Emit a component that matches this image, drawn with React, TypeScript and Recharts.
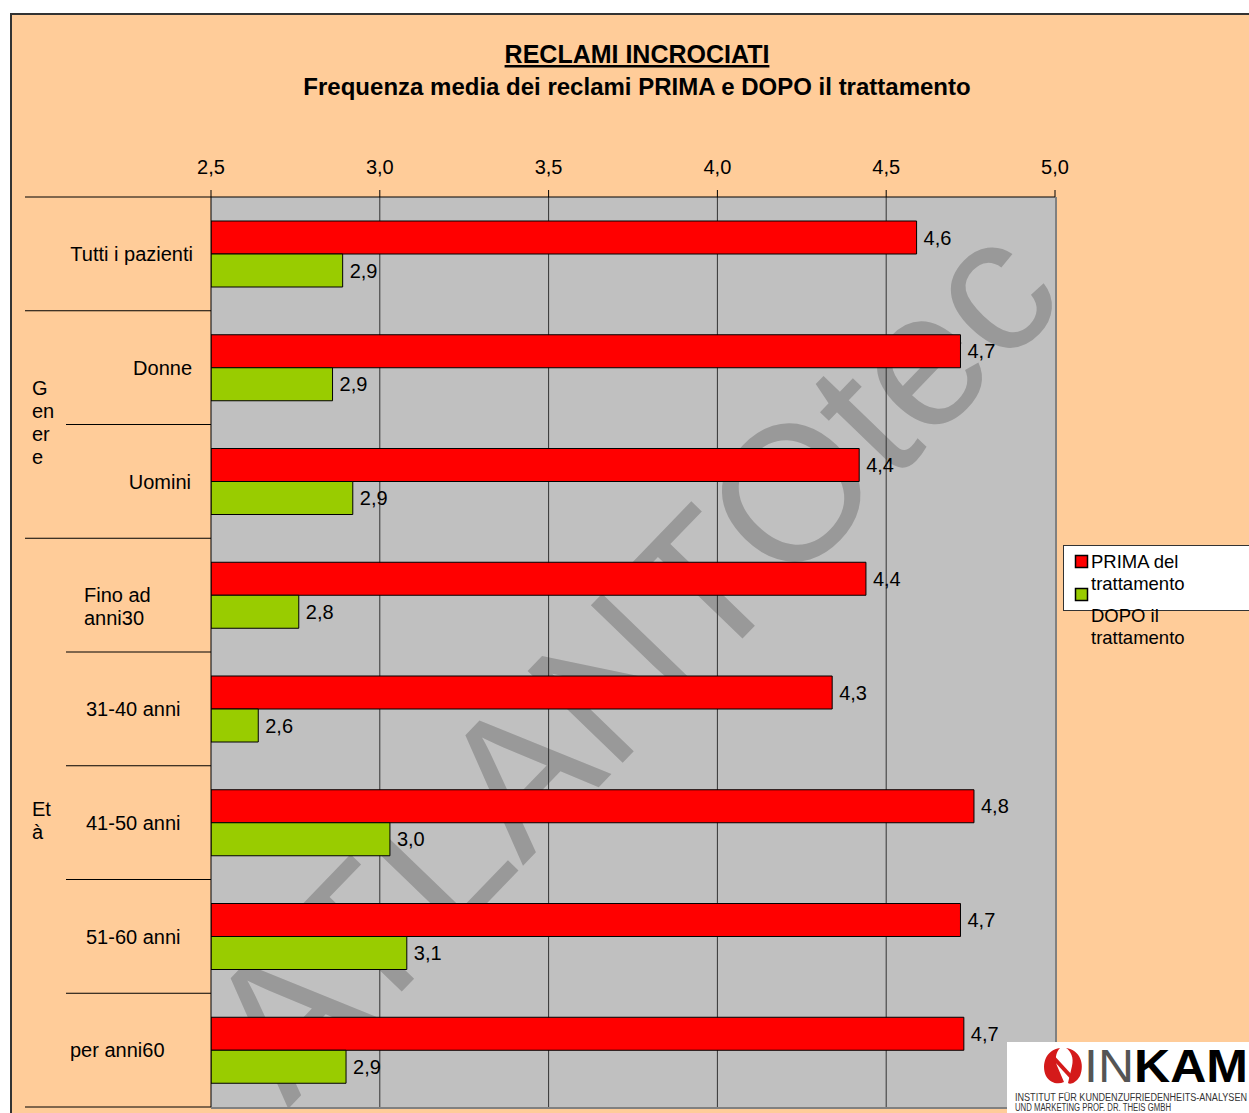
import * as React from 'react';
import {
  Bar,
  BarChart,
  CartesianGrid,
  LabelList,
  Text,
  XAxis,
  YAxis,
} from 'recharts';

const CATEGORIES = [
  'Tutti i pazienti',
  'Donne',
  'Uomini',
  'Fino ad anni30',
  '31-40 anni',
  '41-50 anni',
  '51-60 anni',
  'per anni60',
];
const PRIMA = [4.59, 4.72, 4.42, 4.44, 4.34, 4.76, 4.72, 4.73];
const DOPO = [2.89, 2.86, 2.92, 2.76, 2.64, 3.03, 3.08, 2.9];
const X_TICKS = [2.5, 3.0, 3.5, 4.0, 4.5, 5.0];
const GROUP_LINES = [
  ['G', 'en', 'er', 'e'],
  ['Et', 'à'],
];
const GROUP_START = [1, 3];
const GROUP_SIZE = [2, 5];
const SERIES_NAMES = ['PRIMA del trattamento', 'DOPO il trattamento'];
const TITLE = 'RECLAMI INCROCIATI';
const SUBTITLE = 'Frequenza media dei reclami PRIMA e DOPO il trattamento';

const data = CATEGORIES.map((name, i) => ({
  name,
  prima: PRIMA[i],
  dopo: DOPO[i],
}));

const W = 1249;
const H = 1113;
const MARGIN = { top: 137, left: 25, right: 194, bottom: 6 };
const Y_AXIS_W = 186;
const X_AXIS_H = 60;
const PLOT_LEFT = MARGIN.left + Y_AXIS_W;
const PLOT_TOP = MARGIN.top + X_AXIS_H;
const PLOT_W = W - MARGIN.right - PLOT_LEFT;
const PLOT_H = H - MARGIN.bottom - PLOT_TOP;
const BAND = PLOT_H / CATEGORIES.length;
const X_MIN = X_TICKS[0];
const X_MAX = X_TICKS[X_TICKS.length - 1];

const ORANGE = '#FFCC99';
const PLOT_BG = '#C0C0C0';
const RED = '#FF0000';
const GREEN = '#99CC00';
const FONT = 'Arial, "Liberation Sans", sans-serif';

// per-category label placement (the source mixes alignments)
const LABEL_LAYOUT: { anchor: 'start' | 'end'; x: number; width?: number }[] = [
  { anchor: 'end', x: 193 },
  { anchor: 'end', x: 192 },
  { anchor: 'end', x: 191 },
  { anchor: 'start', x: 84, width: 78 },
  { anchor: 'start', x: 86 },
  { anchor: 'start', x: 86 },
  { anchor: 'start', x: 86 },
  { anchor: 'start', x: 70 },
];

const fmt = (v: number) => v.toFixed(1).replace('.', ',');

const CategoryTick = (props: any) => {
  const { y, payload, index } = props;
  const top = y - BAND / 2;
  const groupStarts = [0, ...GROUP_START];
  const lineStart = groupStarts.includes(index) ? MARGIN.left : 66;
  const lay = LABEL_LAYOUT[index];
  const g = GROUP_START.indexOf(index);
  return (
    <g>
      <line x1={lineStart} x2={PLOT_LEFT} y1={top} y2={top} stroke="#000" />
      {index === CATEGORIES.length - 1 && (
        <line
          x1={MARGIN.left}
          x2={PLOT_LEFT}
          y1={y + BAND / 2}
          y2={y + BAND / 2}
          stroke="#000"
        />
      )}
      <Text
        x={lay.x}
        y={y - 7}
        width={lay.width}
        textAnchor={lay.anchor}
        verticalAnchor="start"
        lineHeight={23}
        fontSize={20}
        fontFamily={FONT}
        fill="#000"
      >
        {payload.value}
      </Text>
      {g >= 0 && (
        <text
          x={32}
          y={top + (GROUP_SIZE[g] * BAND) / 2 - ((GROUP_LINES[g].length - 1) * 23) / 2 + 5}
          fontSize={20}
          fontFamily={FONT}
          fill="#000"
        >
          {GROUP_LINES[g].map((l, k) => (
            <tspan key={k} x={32} dy={k === 0 ? 0 : 23}>
              {l}
            </tspan>
          ))}
        </text>
      )}
    </g>
  );
};

const ValueTick = (props: any) => {
  const { x, payload } = props;
  return (
    <text
      x={x}
      y={PLOT_TOP - 23}
      textAnchor="middle"
      fontSize={20}
      fontFamily={FONT}
      fill="#000"
    >
      {fmt(payload.value)}
    </text>
  );
};

const Logo = () => (
  <g>
    <rect x={1007} y={1042} width={260} height={80} fill="#fff" />
    <path
      d="M1060 1048 C1046 1050 1041 1064 1046 1076 C1050 1083 1058 1085 1064 1082 L1058 1068 C1054 1060 1056 1052 1060 1048 Z"
      fill="#D41A1A"
    />
    <path
      d="M1066 1048 C1080 1050 1085 1064 1080 1076 C1076 1083 1070 1085 1068 1083 L1072 1066 C1074 1058 1071 1051 1066 1048 Z"
      fill="#D41A1A"
    />
    <path d="M1052 1056 L1074 1080" stroke="#D41A1A" strokeWidth={4} />
    <text
      x={1084}
      y={1082}
      fontSize={46}
      fontFamily={FONT}
      textLength={164}
      lengthAdjust="spacingAndGlyphs"
    >
      <tspan fontWeight={300} fill="#555">
        IN
      </tspan>
      <tspan fontWeight={700} fill="#000">
        KAM
      </tspan>
    </text>
    <text
      x={1015}
      y={1101}
      fontSize={10}
      fontFamily={FONT}
      fill="#333"
      textLength={232}
      lengthAdjust="spacingAndGlyphs"
    >
      INSTITUT FÜR KUNDENZUFRIEDENHEITS-ANALYSEN
    </text>
    <text
      x={1015}
      y={1111}
      fontSize={10}
      fontFamily={FONT}
      fill="#333"
      textLength={156}
      lengthAdjust="spacingAndGlyphs"
    >
      UND MARKETING PROF. DR. THEIS GMBH
    </text>
  </g>
);

export default function App() {
  return (
    <div
      style={{
        position: 'absolute',
        left: 0,
        top: 0,
        width: W,
        height: H,
        overflow: 'hidden',
        background: '#fff',
      }}
    >
      <div
        style={{
          position: 'absolute',
          left: 10,
          top: 13,
          width: W + 40,
          height: H + 40,
          background: ORANGE,
          borderLeft: '2px solid #333',
          borderTop: '2px solid #333',
        }}
      />
      <div
        style={{
          position: 'absolute',
          left: PLOT_LEFT,
          top: PLOT_TOP,
          width: PLOT_W,
          height: PLOT_H,
          background: PLOT_BG,
          borderRight: '2px solid #808080',
          borderBottom: '2px solid #808080',
          boxSizing: 'content-box',
          overflow: 'hidden',
        }}
      >
        <div
          style={{
            position: 'absolute',
            left: 420,
            top: 462,
            transform: 'translate(-50%, -50%) rotate(-46deg)',
            fontFamily: FONT,
            fontSize: 192,
            lineHeight: '192px',
            color: '#999999',
            whiteSpace: 'nowrap',
          }}
        >
          ATLANTOtec
        </div>
      </div>
      <div style={{ position: 'absolute', left: 0, top: 0 }}>
        <BarChart
          width={W}
          height={H}
          data={data}
          layout="vertical"
          margin={MARGIN}
          barGap={0}
          barSize={33}
        >
          <CartesianGrid
            horizontal={false}
            stroke="#333"
            verticalCoordinatesGenerator={({ offset }: any) =>
              X_TICKS.slice(1, -1).map(
                (v) => offset.left + ((v - X_MIN) / (X_MAX - X_MIN)) * offset.width
              )
            }
          />
          <XAxis
            type="number"
            orientation="top"
            domain={[X_MIN, X_MAX]}
            ticks={X_TICKS}
            allowDataOverflow
            height={X_AXIS_H}
            tickSize={7}
            tickLine={{ stroke: '#000' }}
            axisLine={{ stroke: '#000' }}
            tick={<ValueTick />}
          />
          <YAxis
            type="category"
            dataKey="name"
            width={Y_AXIS_W}
            interval={0}
            tickLine={false}
            axisLine={{ stroke: '#000' }}
            tick={<CategoryTick />}
          />
          <Bar
            dataKey="prima"
            fill={RED}
            stroke="#000"
            strokeWidth={1}
            isAnimationActive={false}
          >
            <LabelList
              dataKey="prima"
              position="right"
              offset={7}
              formatter={(v: any) => fmt(Number(v))}
              style={{ fontSize: 20, fontFamily: FONT, fill: '#000' }}
            />
          </Bar>
          <Bar
            dataKey="dopo"
            fill={GREEN}
            stroke="#000"
            strokeWidth={1}
            isAnimationActive={false}
          >
            <LabelList
              dataKey="dopo"
              position="right"
              offset={7}
              formatter={(v: any) => fmt(Number(v))}
              style={{ fontSize: 20, fontFamily: FONT, fill: '#000' }}
            />
          </Bar>
        </BarChart>
      </div>
      <svg
        width={W}
        height={H}
        style={{ position: 'absolute', left: 0, top: 0, pointerEvents: 'none' }}
      >
        <text
          x={637}
          y={63}
          textAnchor="middle"
          fontSize={25}
          fontWeight={700}
          fontFamily={FONT}
          style={{ textDecoration: 'underline' }}
        >
          {TITLE}
        </text>
        <text
          x={637}
          y={95}
          textAnchor="middle"
          fontSize={24}
          fontWeight={700}
          fontFamily={FONT}
        >
          {SUBTITLE}
        </text>
        <rect x={1063.5} y={545.5} width={220} height={65} fill="#fff" stroke="#333" />
        <rect x={1075.5} y={555.5} width={12} height={12} fill={RED} stroke="#000" strokeWidth={1.5} />
        <rect x={1075.5} y={588.5} width={12} height={12} fill={GREEN} stroke="#000" strokeWidth={1.5} />
        {SERIES_NAMES.map((s, i) => {
          const words = s.split(' ');
          return (
            <text key={s} fontSize={18.5} fontFamily={FONT} fill="#000">
              <tspan x={1091} y={568 + i * 54}>
                {words.slice(0, 2).join(' ')}
              </tspan>
              <tspan x={1091} y={590 + i * 54}>
                {words.slice(2).join(' ')}
              </tspan>
            </text>
          );
        })}
        <Logo />
      </svg>
    </div>
  );
}
